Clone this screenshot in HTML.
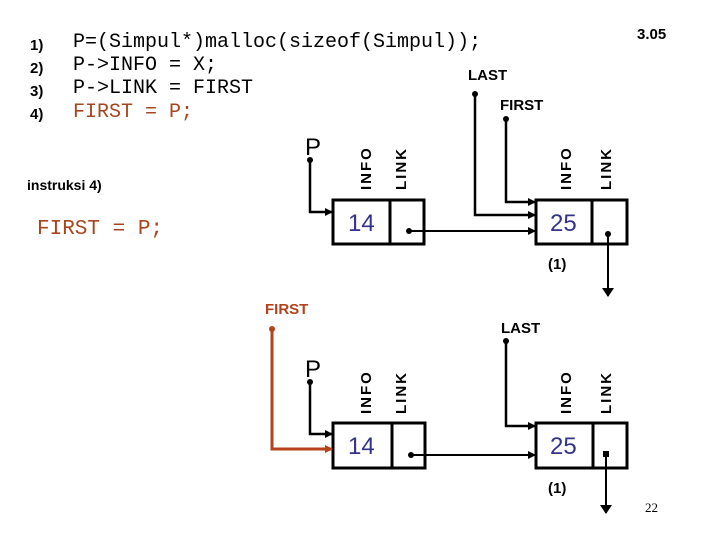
<!DOCTYPE html>
<html><head><meta charset="utf-8"><style>
html,body{margin:0;padding:0;background:#fff;}
svg{display:block;}
.code{font-family:"Liberation Mono",monospace;font-size:20px;}
.lbl{font-family:"Liberation Sans",sans-serif;font-weight:bold;font-size:15px;}
.num{font-family:"Liberation Sans",sans-serif;font-size:24px;fill:#33338a;}
</style></head><body>
<svg width="720" height="540" viewBox="0 0 720 540" xmlns="http://www.w3.org/2000/svg">
<defs>
<marker id="a" markerWidth="8" markerHeight="8" refX="7" refY="4" orient="auto" markerUnits="userSpaceOnUse"><path d="M0,0 L8,4 L0,8 z" fill="#000"/></marker>
<marker id="ar" markerWidth="8" markerHeight="8" refX="7" refY="4" orient="auto" markerUnits="userSpaceOnUse"><path d="M0,0 L8,4 L0,8 z" fill="#b5421a"/></marker>
<marker id="d" markerWidth="12" markerHeight="10" refX="6" refY="9" orient="0" markerUnits="userSpaceOnUse"><path d="M0,1 L12,1 L6,10 z" fill="#000"/></marker>
</defs>
<g class="lbl">
<text x="30" y="50">1)</text><text x="30" y="73">2)</text><text x="30" y="96">3)</text><text x="30" y="119">4)</text>
<text x="637" y="39">3.05</text>
<text x="27" y="190" font-size="14">instruksi 4)</text>
</g>
<g class="code">
<text x="73" y="47">P=(Simpul*)malloc(sizeof(Simpul));</text>
<text x="73" y="70">P-&gt;INFO = X;</text>
<text x="73" y="93">P-&gt;LINK = FIRST</text>
<text x="73" y="117" fill="#a8441e">FIRST = P;</text>
<text x="37" y="234" fill="#a8441e" font-size="21">FIRST = P;</text>
</g>
<g stroke="#000" stroke-width="3" fill="none">
<rect x="333" y="200" width="91" height="44"/><line x1="390" y1="200" x2="390" y2="244"/>
<rect x="536" y="200" width="91" height="44"/><line x1="592" y1="200" x2="592" y2="244"/>
<rect x="333" y="423" width="92" height="45"/><line x1="392" y1="423" x2="392" y2="468"/>
<rect x="536" y="423" width="91" height="45"/><line x1="593" y1="423" x2="593" y2="468"/>
</g>
<g stroke="#000" stroke-width="2.5" fill="none">
<polyline points="310,160 310,212 332,212" marker-end="url(#a)"/>
<polyline points="475,94 475,215 535,215" marker-end="url(#a)"/>
<polyline points="506,119 506,202 535,202" marker-end="url(#a)"/>
<line x1="409" y1="231" x2="535" y2="231" stroke-width="2" marker-end="url(#a)"/>
<line x1="608" y1="234" x2="608" y2="296" stroke-width="2" marker-end="url(#d)"/>
<polyline points="310,382 310,434 332,434" marker-end="url(#a)"/>
<polyline points="506,341 506,426 535,426" marker-end="url(#a)"/>
<line x1="411" y1="455" x2="535" y2="455" stroke-width="2" marker-end="url(#a)"/>
<line x1="606" y1="454" x2="606" y2="513" stroke-width="2" marker-end="url(#d)"/>
</g>
<polyline points="272,329 272,449 332,449" stroke="#b5421a" stroke-width="3" fill="none" marker-end="url(#ar)"/>
<g fill="#000">
<circle cx="310" cy="160" r="3"/><circle cx="475" cy="94" r="3"/><circle cx="506" cy="119" r="3"/>
<circle cx="409" cy="231" r="3"/><circle cx="608" cy="234" r="3"/>
<circle cx="310" cy="382" r="3"/><circle cx="506" cy="341" r="3"/>
<circle cx="411" cy="455" r="3"/><rect x="603" y="451" width="6" height="6"/>
</g>
<circle cx="272" cy="329" r="3" fill="#b5421a"/>
<g class="lbl">
<text x="468" y="80">LAST</text><text x="500" y="110">FIRST</text>
<text x="265" y="314" fill="#b5421a">FIRST</text><text x="501" y="333">LAST</text>
<text x="548" y="269">(1)</text><text x="548" y="493">(1)</text>
</g>
<g font-family="Liberation Sans,sans-serif" font-size="24">
<text x="305" y="155">P</text><text x="305" y="377">P</text>
</g>
<g class="num">
<text x="348" y="231">14</text><text x="550" y="231">25</text>
<text x="348" y="454">14</text><text x="550" y="454">25</text>
</g>
<g class="lbl" letter-spacing="2">
<text transform="translate(371,190) rotate(-90)">INFO</text>
<text transform="translate(406,190) rotate(-90)">LINK</text>
<text transform="translate(571,190) rotate(-90)">INFO</text>
<text transform="translate(611,190) rotate(-90)">LINK</text>
<text transform="translate(371,414) rotate(-90)">INFO</text>
<text transform="translate(406,414) rotate(-90)">LINK</text>
<text transform="translate(571,414) rotate(-90)">INFO</text>
<text transform="translate(611,414) rotate(-90)">LINK</text>
</g>
<text x="645" y="512" font-family="Liberation Serif,serif" font-size="13">22</text>
</svg>
</body></html>
